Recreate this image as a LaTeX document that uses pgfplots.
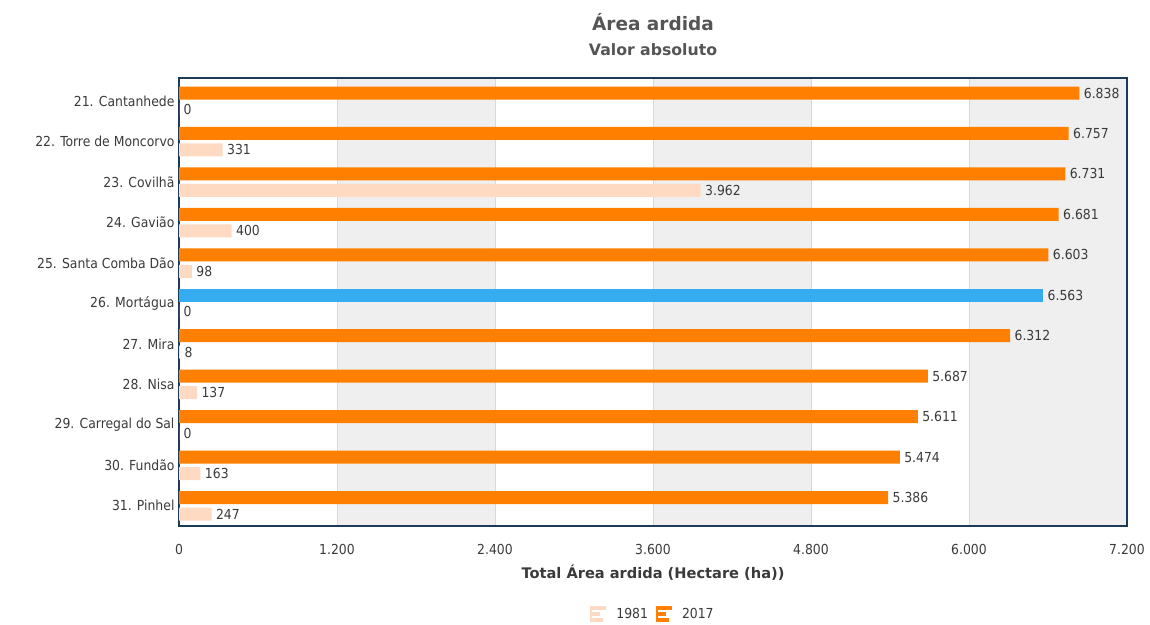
\documentclass[border=0pt]{standalone}
\usepackage{fontspec}
\setmainfont{DejaVu Sans Condensed}
\newfontfamily\wideb{DejaVu Sans}
\usepackage{pgfplots}
\pgfplotsset{compat=1.18}
\definecolor{cA}{HTML}{FFDAC2}
\definecolor{cB}{HTML}{FF8000}
\definecolor{cBlue}{HTML}{36ACF0}
\definecolor{band}{HTML}{EFEFEF}
\definecolor{gridc}{HTML}{D8D8D8}
\definecolor{framec}{HTML}{1E3A5A}
\definecolor{txt}{HTML}{3A3A3A}
\definecolor{ttl}{HTML}{555555}
\begin{document}
\begin{tikzpicture}[font=\fontsize{13.8}{16}\selectfont]
\begin{axis}[
  at={(0pt,0pt)}, anchor=south west,
  width=948pt, height=448pt, scale only axis,
  set layers,
  xbar,
  xmin=0, xmax=7200, ymin=-0.575, ymax=10.5, y dir=reverse,
  bar width=13pt,
  xtick={0,1200,2400,3600,4800,6000,7200},
  xticklabels={0,1.200,2.400,3.600,4.800,6.000,7.200},
  ytick={0,1,2,3,4,5,6,7,8,9,10},
  yticklabels={21. Cantanhede,22. Torre de Moncorvo,23. Covilhã,24. Gavião,25. Santa Comba Dão,26. Mortágua,27. Mira,28. Nisa,29. Carregal do Sal,30. Fundão,31. Pinhel},
  major tick length=0pt,
  xmajorgrids, ymajorgrids=false,
  grid style={gridc, line width=1pt},
  axis line style={framec, line width=1.3pt},
  tick label style={txt},
  xticklabel style={yshift=-15pt},
  yticklabel style={xshift=-1pt},
  xlabel={\wideb\bfseries\fontsize{14.6}{17}\selectfont Total Área ardida (Hectare (ha))},
  xlabel style={at={(axis description cs:0.5,-0.105)}, anchor=center, txt},
  nodes near coords,
  nodes near coords style={txt, anchor=west, xshift=1pt},
  /pgf/number format/.cd, 1000 sep={.}, assume math mode=true,
  /pgfplots/.cd,
  clip=false,
  legend style={draw=none, at={(axis description cs:0.5,-0.196)}, anchor=center, legend columns=2, text=txt,
     /tikz/every odd column/.append style={column sep=8pt},
     /tikz/every even column/.append style={column sep=6pt}},
  legend image code/.code={%
    \fill[#1] (0pt,-8pt) rectangle (2pt,8pt);
    \fill[#1] (0pt,4pt) rectangle (16pt,8pt);
    \fill[#1] (0pt,-2pt) rectangle (10pt,2pt);
    \fill[#1] (0pt,-8pt) rectangle (13pt,-4pt);
  },
]
\begin{pgfonlayer}{axis background}
\fill[band] (axis cs:1200,-0.575) rectangle (axis cs:2400,10.5);
\fill[band] (axis cs:3600,-0.575) rectangle (axis cs:4800,10.5);
\fill[band] (axis cs:6000,-0.575) rectangle (axis cs:7200,10.5);
\end{pgfonlayer}
\addplot[fill=cA, draw=none, bar shift=-8.25pt] coordinates {
(0,0) (331,1) (3962,2) (400,3) (98,4) (0,5) (8,6) (137,7) (0,8) (163,9) (247,10)};
\addplot[fill=cB, draw=none, bar shift=8.25pt] coordinates {
(6838,0) (6757,1) (6731,2) (6681,3) (6603,4) (6312,6) (5687,7) (5611,8) (5474,9) (5386,10)};
\addplot[fill=cBlue, draw=none, bar shift=8.25pt, forget plot] coordinates {(6563,5)};
\legend{1981,2017}
\node[font=\wideb\bfseries\fontsize{18.5}{22}\selectfont, text=ttl] at (axis description cs:0.5,1.125) {Área ardida};
\node[font=\wideb\bfseries\fontsize{15.7}{18}\selectfont, text=ttl] at (axis description cs:0.5,1.0625) {Valor absoluto};
\end{axis}
\path (-179pt,-98pt) rectangle (971pt,526pt);
\end{tikzpicture}
\end{document}
